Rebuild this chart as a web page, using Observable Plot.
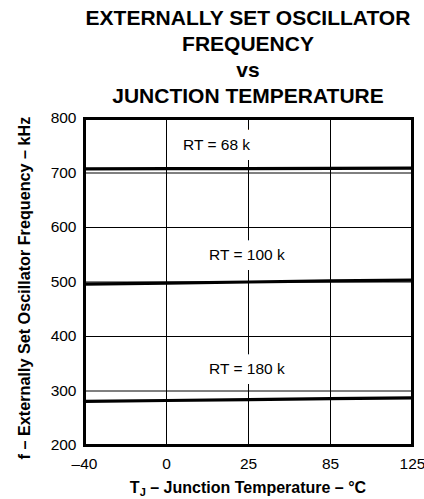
<!DOCTYPE html>
<html><head><meta charset="utf-8">
<script src="https://cdn.jsdelivr.net/npm/d3@7"></script>
<script src="https://cdn.jsdelivr.net/npm/@observablehq/plot@0.6"></script>
<style>
body{margin:0;background:#fff;font-family:"Liberation Sans",Arial,sans-serif;width:424px;height:499px;position:relative;overflow:hidden}
#title{position:absolute;left:80px;width:336px;top:5px;text-align:center;font-weight:bold;font-size:21px;line-height:26px;color:#000}
#chart{position:absolute;left:0;top:108px}
#xlabel{position:absolute;left:84px;width:328px;top:479px;text-align:center;font-weight:bold;font-size:16px;line-height:18px;color:#000}
#xlabel sub{font-size:11px;vertical-align:-3px;line-height:0}
</style></head>
<body>
<div id="title">EXTERNALLY SET OSCILLATOR<br>FREQUENCY<br>vs<br>JUNCTION TEMPERATURE</div>
<div id="chart"></div>
<div id="xlabel">T<sub>J</sub> – Junction Temperature – °C</div>
<script>
const tempLabels = ["–40", "0", "25", "85", "125"];
const tempIndex = [0, 1, 2, 3, 4];
const rt68 = [707.6, 707.9, 708.2, 708.5, 708.8];
const rt100 = [496, 498, 500, 502, 503.5];
const rt180 = [281, 282.6, 284.3, 286, 287.5];
const seriesNames = ["RT = 68 k", "RT = 100 k", "RT = 180 k"];
const labelX = [1.61, 1.98, 1.98];
const labelY = [752, 550, 340];
const yTicks = [200, 300, 400, 500, 600, 700, 800];
const gridY = [300, 400, 500, 600, 700];
const gridX = [1, 2, 3];
const yLabel = "f – Externally Set Oscillator Frequency – kHz";

const series = [rt68, rt100, rt180];
const rows = series.flatMap((vals, s) => vals.map((v, i) => ({t: tempIndex[i], f: v, s: seriesNames[s]})));
const labels = seriesNames.map((n, i) => ({n, x: labelX[i], y: labelY[i]}));

const chart = Plot.plot({
  width: 424,
  height: 391,
  marginLeft: 84,
  marginRight: 12,
  marginTop: 10,
  marginBottom: 54,
  style: {fontFamily: "'Liberation Sans', Arial, sans-serif", fontSize: "15.5px", color: "#000", background: "#fff", overflow: "visible"},
  x: {domain: [0, 4], ticks: tempIndex, tickFormat: i => tempLabels[i], tickSize: 0, tickPadding: 12, label: null},
  y: {domain: [200, 800], ticks: yTicks, tickSize: 0, tickPadding: 8, label: null},
  marks: [
    Plot.ruleY(gridY, {stroke: "#000", strokeWidth: 1}),
    Plot.ruleX(gridX, {stroke: "#000", strokeWidth: 1}),
    Plot.text(labels, {x: "x", y: "y", text: "n", fill: "#000", stroke: "#fff", strokeWidth: 20, strokeLinejoin: "round", fontSize: 15.5}),
    Plot.line(rows, {x: "t", y: "f", z: "s", stroke: "#000", strokeWidth: 3.2}),
    Plot.frame({stroke: "#000", strokeWidth: 3}),
    Plot.text([yLabel], {frameAnchor: "left", textAnchor: "middle", rotate: -90, dx: -60, dy: 6, fontWeight: "bold", fontSize: 16.2, fill: "#000"})
  ]
});
document.getElementById("chart").appendChild(chart);
</script>
</body></html>
